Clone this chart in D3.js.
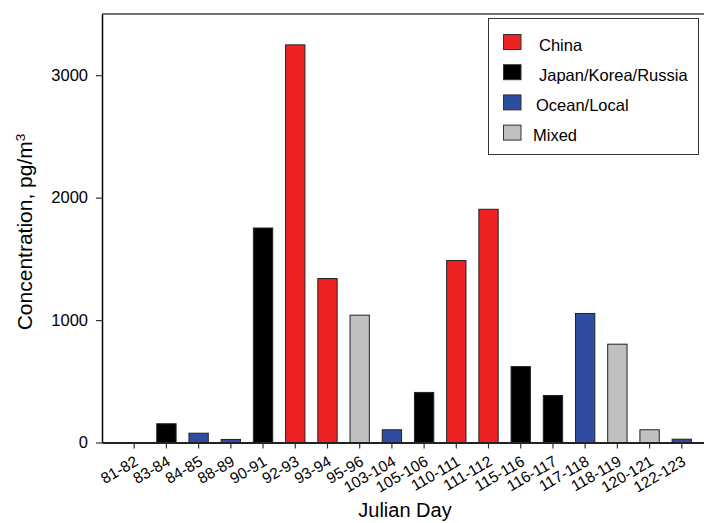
<!DOCTYPE html>
<html>
<head>
<meta charset="utf-8">
<script src="https://cdn.jsdelivr.net/npm/d3@7"></script>
<style>
  body { margin: 0; background: #fff; }
  svg { font-family: "Liberation Sans", Arial, sans-serif; }
</style>
</head>
<body>
<div id="chart"></div>
<script>
// data
var days = ["81-82", "83-84", "84-85", "88-89", "90-91", "92-93", "93-94", "95-96", "103-104",
  "105-106", "110-111", "111-112", "115-116", "116-117", "117-118", "118-119", "120-121", "122-123"];
var concentration = [0, 153, 76, 25, 1752, 3248, 1339, 1040, 104,
  409, 1486, 1905, 620, 384, 1054, 803, 104, 27];
var source = ["Ocean/Local", "Japan/Korea/Russia", "Ocean/Local", "Ocean/Local", "Japan/Korea/Russia",
  "China", "China", "Mixed", "Ocean/Local", "Japan/Korea/Russia", "China", "China",
  "Japan/Korea/Russia", "Japan/Korea/Russia", "Ocean/Local", "Mixed", "Mixed", "Ocean/Local"];
var sources = ["China", "Japan/Korea/Russia", "Ocean/Local", "Mixed"];
var sourceColors = ["#ee2224", "#000000", "#2e4d9e", "#c0c0c0"];
var yTicks = [0, 1000, 2000, 3000];

var margin = { top: 14, right: 0, bottom: 80, left: 102 },
  width = 612,
  height = 428.5;

var svg = d3.select("#chart").append("svg")
  .attr("width", 704)
  .attr("height", 523);

var g = svg.append("g")
  .attr("transform", `translate(${margin.left},${margin.top})`);

var x = d3.scaleBand().domain(days).range([0, width]).paddingInner(0.4).paddingOuter(0.7);
var y = d3.scaleLinear().domain([0, 3500]).range([height, 0]);
var color = d3.scaleOrdinal().domain(sources).range(sourceColors);

// top border
g.append("line")
  .attr("x1", 0).attr("x2", width)
  .attr("y1", 0).attr("y2", 0)
  .attr("stroke", "#444").attr("stroke-width", 1.5);

// bars
g.selectAll("rect.bar")
  .data(days)
  .enter().append("rect")
  .attr("class", "bar")
  .attr("x", (d) => x(d))
  .attr("width", x.bandwidth())
  .attr("y", (d, i) => y(concentration[i]))
  .attr("height", (d, i) => height - y(concentration[i]))
  .attr("fill", (d, i) => color(source[i]))
  .attr("stroke", "#222")
  .attr("stroke-width", (d, i) => concentration[i] > 0 ? 1 : 0);

// y axis
var yAxis = g.append("g")
  .call(d3.axisLeft(y).tickValues(yTicks).tickFormat(d3.format("d"))
    .tickSize(6).tickSizeOuter(0).tickPadding(8));
yAxis.select(".domain").attr("stroke", "#000").attr("stroke-width", 1.5);
yAxis.selectAll(".tick line").attr("stroke", "#333").attr("stroke-width", 1.2);
yAxis.selectAll("text").style("font-size", "16.5px").attr("fill", "#000");

// x axis
var xAxis = g.append("g")
  .attr("transform", `translate(0,${height})`)
  .call(d3.axisBottom(x).tickSize(6).tickSizeOuter(0));
xAxis.select(".domain").attr("stroke", "#222").attr("stroke-width", 1.8);
xAxis.selectAll(".tick line").attr("stroke", "#333").attr("stroke-width", 1.2);
xAxis.selectAll("text")
  .style("font-size", "15.5px")
  .attr("fill", "#000")
  .attr("text-anchor", "end")
  .attr("x", 0).attr("y", 0).attr("dy", 0)
  .attr("transform", "translate(5,22) rotate(-30)");

// axis titles
svg.append("text")
  .attr("x", 405)
  .attr("y", 517)
  .attr("text-anchor", "middle")
  .style("font-size", "20px")
  .text("Julian Day");

var yTitle = svg.append("text")
  .attr("transform", "translate(32,232) rotate(-90)")
  .attr("text-anchor", "middle")
  .style("font-size", "21px");
yTitle.append("tspan").text("Concentration, pg/m");
yTitle.append("tspan").attr("dy", "-0.55em").style("font-size", "13.5px").text("3");

// legend
var legend = svg.append("g");
legend.append("rect")
  .attr("x", 488.5).attr("y", 18.5)
  .attr("width", 210).attr("height", 136)
  .attr("fill", "#fff").attr("stroke", "#333").attr("stroke-width", 1);

var legendTextX = [539, 539, 536, 533];
sources.forEach((s, i) => {
  var cy = 42 + i * 30.2;
  legend.append("rect")
    .attr("x", 503.5).attr("y", cy - 7.5)
    .attr("width", 17.5).attr("height", 15)
    .attr("fill", color(s))
    .attr("stroke", "#333").attr("stroke-width", 1);
  legend.append("text")
    .attr("x", legendTextX[i]).attr("y", cy + 8.5)
    .style("font-size", "16.5px")
    .text(s);
});
</script>
</body>
</html>
